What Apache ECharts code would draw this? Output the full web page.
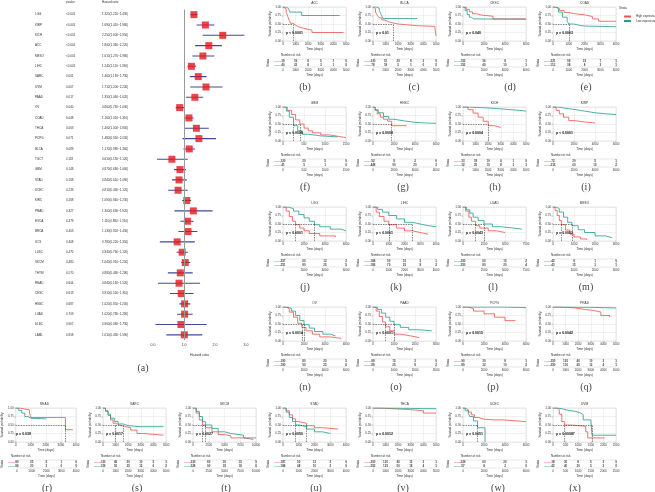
<!DOCTYPE html>
<html><head><meta charset="utf-8">
<script src="https://cdn.jsdelivr.net/npm/echarts@6/dist/echarts.min.js"></script>
<style>html,body{margin:0;padding:0;background:#fff}#c{width:655px;height:492px}</style>
</head><body><div id="c"></div><script>
// ---------------- Forest plot data ----------------
const forestNames = ['LGG','KIRP','KICH','ACC','MESO','LIHC','SARC','UVM','PAAD','OV','COAD','THCA','PCPG','BLCA','TGCT','GBM','STAD','UCEC','KIRC','PRAD','ESCA','BRCA','UCS','LUSC','SKCM','THYM','READ','CESC','HNSC','LUAD','DLBC','LAML'];
const forestP = ['<0.001','<0.001','<0.001','<0.001','<0.001','<0.001','0.001','0.007','0.017','0.040','0.048','0.063','0.071','0.089','0.118','0.148','0.168','0.233','0.268','0.327','0.379','0.403','0.408','0.470','0.480','0.570','0.604','0.613','0.687','0.709','0.907','0.958'];
const forestHR = [1.32,1.69,2.25,1.80,1.61,1.24,1.46,1.71,1.35,0.86,1.16,1.40,1.48,1.17,0.61,0.87,0.84,0.81,1.09,1.30,1.11,1.13,0.78,0.94,1.04,0.88,0.84,0.91,1.02,1.02,0.90,1.01];
const forestLo = [1.21,1.41,1.60,1.36,1.27,1.11,1.19,1.20,1.06,0.73,1.01,1.00,0.95,0.98,0.13,0.68,0.61,0.49,0.94,0.69,0.88,0.82,0.22,0.76,0.91,0.48,0.16,0.55,0.85,0.78,0.08,0.43];
const forestHi = [1.43,1.98,2.95,2.22,1.98,1.39,1.73,2.24,1.62,1.00,1.31,1.80,2.03,1.36,1.12,1.06,1.09,1.12,1.23,1.92,1.31,1.43,1.35,1.12,1.20,1.28,1.52,1.31,1.20,1.28,1.73,1.59];
const forestTicks = ['0.0','1.0','2.0','3.0'];

// ---------------- Kaplan-Meier panels ----------------
const panelNames = ['ACC','BLCA','CESC','COAD','GBM','HNSC','KICH','KIRP','LGG','LIHC','LUAD','MESO','OV','PAAD','PCPG','PRAD','READ','SARC','SKCM','STAD','THCA','UCEC','UVM'];
const panelLetters = ['b','c','d','e','f','g','h','i','j','k','l','m','n','o','p','q','r','s','t','u','v','w','x'];
const panelXmax = [5000,5000,6000,4000,1500,6000,5000,6000,6000,4000,7500,3000,6000,3000,6000,5000,4000,5000,10000,4000,5000,6000,2500];
const panelXint = [1000,1000,2000,1000,500,2000,1000,2000,2000,1000,2500,1000,2000,1000,2000,1000,1000,1000,2500,1000,1000,2000,500];
const panelP = ['p < 0.0001','p = 0.01','p = 0.040','p = 0.0003','p = 0.0009','p = 0.0008','p = 0.0004','p < 0.0001','p < 0.0001','p < 0.0001','p = 0.0043','p = 0.0002','p = 0.0014','p < 0.0001','p = 0.0015','p = 0.0042','p = 0.038','p = 0.0017','p = 0.0027','p = 0.0050','p = 0.0012','p = 0.0051','p = 0.00087'];

const ACC_high = [[0,1],[120,0.95],[250,0.85],[380,0.72],[500,0.6],[600,0.52],[800,0.47],[1000,0.42],[1200,0.38],[1600,0.35],[1900,0.32],[2300,0.25],[4800,0.25]];
const ACC_low = [[0,1],[250,0.95],[450,0.9],[550,0.85],[1480,0.75],[4500,0.75]];
const BLCA_high = [[0,1],[80,0.95],[200,0.85],[350,0.75],[500,0.68],[700,0.62],[900,0.57],[1200,0.53],[1600,0.5],[2000,0.48],[2600,0.45],[3500,0.43],[4900,0.4],[5000,0.15]];
const BLCA_low = [[0,1],[300,0.96],[500,0.9],[650,0.78],[800,0.66],[3500,0.66]];
const CESC_high = [[0,1],[300,0.93],[600,0.86],[900,0.8],[1300,0.76],[1800,0.73],[2850,0.65],[6000,0.65]];
const CESC_low = [[0,1],[200,0.9],[400,0.78],[600,0.7],[800,0.65],[1000,0.64],[6000,0.64]];
const COAD_high = [[0,1],[200,0.96],[400,0.9],[700,0.84],[1000,0.8],[1400,0.77],[2000,0.72],[2500,0.65],[2900,0.58],[4000,0.58]];
const COAD_low = [[0,1],[150,0.95],[350,0.85],[600,0.7],[900,0.58],[1000,0.5],[1300,0.46],[1700,0.44],[2000,0.42],[4000,0.42]];
const GBM_high = [[0,1],[100,0.9],[200,0.78],[300,0.62],[400,0.5],[500,0.38],[600,0.3],[700,0.24],[900,0.18],[1100,0.14],[1300,0.1],[1500,0.08]];
const GBM_low = [[0,1],[80,0.88],[150,0.7],[250,0.45],[350,0.3],[450,0.2],[600,0.15],[900,0.12],[1300,0.1]];
const HNSC_high = [[0,1],[200,0.9],[400,0.8],[700,0.7],[1000,0.64],[1400,0.58],[1780,0.45],[3200,0.45]];
const HNSC_low = [[0,1],[200,0.92],[500,0.83],[1000,0.72],[1500,0.64],[2000,0.59],[3000,0.55],[4000,0.53],[5000,0.52],[6000,0.52]];
const KICH_high = [[0,1],[400,0.92],[800,0.82],[1200,0.7],[1600,0.58],[2000,0.45],[2500,0.4],[3000,0.4]];
const KICH_low = [[0,1],[500,0.98],[1500,0.96],[2500,0.93],[3500,0.9],[4500,0.88],[5000,0.88]];
const KIRP_high = [[0,1],[300,0.9],[600,0.8],[1000,0.7],[1500,0.6],[2000,0.56],[3000,0.53],[4000,0.53]];
const KIRP_low = [[0,1],[500,0.97],[1000,0.93],[2000,0.88],[3000,0.83],[4000,0.8],[5000,0.78],[6000,0.78]];
const LGG_high = [[0,1],[300,0.88],[600,0.72],[900,0.58],[1200,0.48],[1600,0.38],[2000,0.3],[2500,0.22],[3500,0.15],[5000,0.12]];
const LGG_low = [[0,1],[500,0.95],[1000,0.88],[1500,0.78],[2000,0.68],[2500,0.58],[3000,0.48],[3500,0.42],[4500,0.35],[5500,0.3],[6000,0.3]];
const LIHC_high = [[0,1],[200,0.85],[400,0.72],[700,0.58],[1000,0.48],[1500,0.38],[2000,0.3],[2500,0.25],[3000,0.2],[3500,0.2]];
const LIHC_low = [[0,1],[300,0.93],[600,0.85],[1000,0.75],[1500,0.65],[2000,0.55],[2500,0.5],[3000,0.45],[3500,0.42],[4000,0.4]];
const LUAD_high = [[0,1],[300,0.88],[700,0.7],[1000,0.58],[1500,0.45],[2000,0.38],[3000,0.3],[4000,0.25],[5000,0.25]];
const LUAD_low = [[0,1],[400,0.92],[800,0.82],[1200,0.7],[1800,0.6],[2500,0.5],[3500,0.42],[4500,0.38],[6000,0.35],[7000,0.35]];
const MESO_high = [[0,1],[100,0.9],[200,0.75],[300,0.6],[400,0.48],[600,0.32],[800,0.2],[1000,0.12],[1300,0.06],[1600,0.03]];
const MESO_low = [[0,1],[150,0.95],[300,0.85],[500,0.7],[700,0.55],[900,0.45],[1200,0.33],[1500,0.25],[2000,0.15],[2500,0.1],[2800,0.08]];
const OV_high = [[0,1],[300,0.95],[600,0.85],[1000,0.7],[1400,0.52],[1800,0.4],[2200,0.3],[2800,0.2],[3500,0.12],[4500,0.08],[5500,0.05]];
const OV_low = [[0,1],[400,0.96],[800,0.88],[1200,0.75],[1600,0.6],[2000,0.48],[2500,0.38],[3000,0.28],[3800,0.2],[4500,0.15],[5000,0.15]];
const PAAD_high = [[0,1],[150,0.88],[300,0.72],[450,0.56],[600,0.42],[800,0.3],[1000,0.2],[1300,0.15],[1800,0.1],[2200,0.08]];
const PAAD_low = [[0,1],[200,0.93],[400,0.82],[600,0.7],[800,0.58],[1000,0.48],[1300,0.4],[1700,0.33],[2200,0.3],[2800,0.28]];
const PCPG_high = [[0,1],[500,0.95],[1000,0.88],[2000,0.8],[3000,0.7],[4000,0.6],[5000,0.6]];
const PCPG_low = [[0,1],[2000,1],[4000,0.98],[6000,0.98]];
const PRAD_high = [[0,1],[500,0.99],[1000,0.97],[1800,0.93],[2500,0.9],[3200,0.85],[3800,0.75],[4500,0.7]];
const PRAD_low = [[0,1],[1000,0.995],[2000,0.99],[3000,0.98],[4000,0.97],[5000,0.97]];
const READ_high = [[0,1],[300,0.97],[600,0.95],[900,0.88],[1000,0.72],[3300,0.36],[3800,0.36]];
const READ_low = [[0,1],[200,0.93],[400,0.85],[600,0.75],[800,0.7],[1000,0.68],[2000,0.68]];
const SARC_high = [[0,1],[200,0.9],[400,0.78],[600,0.65],[800,0.55],[1000,0.5],[1300,0.46],[1700,0.42],[2200,0.35],[2700,0.25],[3200,0.2],[4800,0.2]];
const SARC_low = [[0,1],[200,0.92],[400,0.82],[600,0.7],[900,0.6],[1200,0.53],[1600,0.48],[2000,0.45],[3000,0.45],[4800,0.45]];
const SKCM_high = [[0,1],[500,0.85],[1000,0.65],[1500,0.5],[2000,0.42],[3000,0.3],[4000,0.22],[5000,0.18],[6000,0.12],[8000,0.08],[9500,0.05]];
const SKCM_low = [[0,1],[500,0.9],[1000,0.75],[1500,0.6],[2000,0.5],[3000,0.4],[4000,0.3],[5000,0.25],[6000,0.2],[8000,0.12],[10000,0.1]];
const STAD_high = [[0,1],[200,0.92],[400,0.8],[600,0.68],[800,0.6],[1000,0.55],[1500,0.48],[2000,0.42],[2500,0.38],[3500,0.38]];
const STAD_low = [[0,1],[200,0.88],[400,0.72],[600,0.6],[800,0.5],[1000,0.45],[1500,0.38],[2000,0.3],[2500,0.25],[3000,0.25]];
const THCA_high = [[0,1],[500,0.99],[1000,0.97],[2000,0.95],[3000,0.92],[4000,0.85],[5000,0.85]];
const THCA_low = [[0,1],[1000,0.995],[2000,0.99],[3000,0.98],[4000,0.98],[5000,0.98]];
const UCEC_high = [[0,1],[200,0.95],[500,0.88],[800,0.8],[1100,0.72],[1500,0.67],[2000,0.65],[3000,0.65],[3800,0.6],[6000,0.6]];
const UCEC_low = [[0,1],[200,0.92],[500,0.85],[650,0.75],[1000,0.62],[1380,0.42],[2100,0]];
const UVM_high = [[0,1],[150,0.95],[250,0.82],[350,0.6],[450,0.5],[700,0.47],[1200,0.45],[1300,0.3],[1380,0.12],[2050,0.12]];
const UVM_low = [[0,1],[200,0.97],[400,0.93],[600,0.9],[900,0.85],[1100,0.8],[1200,0.65],[1500,0.6],[1550,0.2],[2500,0.2]];

const highCurves = [ACC_high,BLCA_high,CESC_high,COAD_high,GBM_high,HNSC_high,KICH_high,KIRP_high,LGG_high,LIHC_high,LUAD_high,MESO_high,OV_high,PAAD_high,PCPG_high,PRAD_high,READ_high,SARC_high,SKCM_high,STAD_high,THCA_high,UCEC_high,UVM_high];
const lowCurves = [ACC_low,BLCA_low,CESC_low,COAD_low,GBM_low,HNSC_low,KICH_low,KIRP_low,LGG_low,LIHC_low,LUAD_low,MESO_low,OV_low,PAAD_low,PCPG_low,PRAD_low,READ_low,SARC_low,SKCM_low,STAD_low,THCA_low,UCEC_low,UVM_low];

const riskHigh = [[39,19,8,5,1,0],[330,51,20,8,3,0],[152,36,8,1],[221,99,33,7,1],[120,20,5,0],[52,8,2,0],[33,18,10,4,1,0],[72,20,5,1],[257,60,12,2],[184,50,15,5,1],[250,60,15,2],[42,8,1,0],[190,80,20,5],[89,15,3,0],[90,30,8,1],[250,120,40,10,3,1],[80,25,5,1,0],[130,45,20,10,5,1],[230,80,30,15,5],[187,50,12,3,0],[250,120,45,15,3,1],[229,60,20,1],[38,30,8,5,3,0]];
const riskLow = [[40,22,8,3,1,0],[78,18,5,1,0,0],[152,40,10,1],[112,38,8,3,1],[41,5,1,0],[448,90,20,3],[32,25,15,8,3,1],[216,60,15,2],[251,80,25,5],[186,70,25,8,2],[250,80,20,4],[43,15,3,1],[190,90,25,6],[89,25,8,2],[89,32,10,2],[250,130,45,12,4,1],[86,20,3,0,0],[129,50,25,12,6,2],[228,90,35,18,6],[188,48,10,2,0],[252,125,50,18,4,1],[57,8,2,0],[42,40,20,5,2,0]];

const geneName = 'ERCC6L';
const highName = 'High expression of ' + geneName;
const lowName = 'Low expression of ' + geneName;

// ---------------- layout ----------------
const RED = '#F0524B', TEAL = '#1F9E8E';
const FONT = 'Liberation Sans';
const colsR = [283, 373, 463, 553];
const rowsR = [7, 107, 207, 307];
const colsB = [13, 103, 193, 283, 373, 463, 553];
const rowB = 408;
const PW = 63, PH = 34;
const subX = [305,414,510,586, 305,403,495,586, 305,396,493,586, 305,396,493,586, 47,137,226,316,403,498,575];

const grids = [], xAxes = [], yAxes = [], series = [], graphics = [];
function txt(x, y, t, o) {
  o = o || {};
  graphics.push({type:'text', x, y, rotation: o.rot || 0, z: 100, silent: true,
    style:{text:t, fill:o.color||'#333', font:(o.weight||'normal')+' '+(o.size||3.5)+'px '+(o.family||FONT),
      align:o.align||'left', textAlign:o.align||'left', verticalAlign:'middle', textVerticalAlign:'middle'}});
}
// median survival time (first time the step curve reaches <= 0.5), or null
function medianOf(curve) {
  for (const [t, s] of curve) if (s <= 0.5) return t;
  return null;
}

// Forest grid
grids.push({left:153, top:9.5, width:93, height:330.5});
xAxes.push({gridIndex:0, type:'value', min:0, max:3, interval:1,
  axisLine:{lineStyle:{color:'#222', width:0.6}}, axisTick:{length:2, lineStyle:{color:'#222', width:0.6}},
  axisLabel:{fontSize:3.5, margin:3, color:'#333', fontFamily:FONT, formatter:(v)=>forestTicks[Math.round(v)]},
  splitLine:{show:false}, name:'Hazard ratio', nameLocation:'middle', nameGap:13,
  nameTextStyle:{fontSize:3.5, color:'#333', fontFamily:FONT}});
yAxes.push({gridIndex:0, type:'category', data:forestNames, inverse:true, axisLine:{show:false}, axisTick:{show:false}, axisLabel:{show:false}});
[[forestNames,118],[forestP,87],[forestHR.map((v,i)=>v.toFixed(3)+'('+forestLo[i].toFixed(3)+'\u2212'+forestHi[i].toFixed(3)+')'),51]].forEach(([d,m])=>{
  yAxes.push({gridIndex:0, type:'category', data:d, inverse:true, position:'left', axisLine:{show:false}, axisTick:{show:false},
    axisLabel:{align:'left', margin:m, fontSize:3, color:'#333', fontFamily:FONT, interval:0}});
});
series.push({type:'custom', xAxisIndex:0, yAxisIndex:0, clip:true, z:2,
  data: forestHR.map((v,i)=>[forestLo[i], forestHi[i], i]),
  encode:{x:[0,1], y:2},
  renderItem:(params, api)=>{
    const p1 = api.coord([api.value(0), api.value(2)]);
    const p2 = api.coord([api.value(1), api.value(2)]);
    return {type:'line', shape:{x1:p1[0], y1:p1[1], x2:p2[0], y2:p2[1]}, style:{stroke:'#3E4A9B', lineWidth:1.1}};
  }});
series.push({type:'scatter', xAxisIndex:0, yAxisIndex:0, z:3, symbol:'rect', symbolSize:7,
  itemStyle:{color:'#E5171C'}, data: forestHR.map((v,i)=>[v,i]),
  markLine:{silent:true, symbol:'none', label:{show:false}, lineStyle:{color:'#9a9a9a', width:1, type:'solid'}, data:[{xAxis:1}]}});
txt(66, 2, 'pvalue', {size:3});
txt(102, 2, 'Hazard ratio', {size:3});
txt(143, 368, '(a)', {size:10, family:'Liberation Serif', align:'center', color:'#444'});

// KM panels
panelNames.forEach((nm, i) => {
  let left, top;
  if (i < 16) { left = colsR[i % 4]; top = rowsR[Math.floor(i / 4)]; }
  else { left = colsB[i - 16]; top = rowB; }
  const xmax = panelXmax[i], xint = panelXint[i];
  // main plot
  let gi = grids.length, xi = xAxes.length, yi = yAxes.length;
  grids.push({left, top, width:PW, height:PH, show:true, borderColor:'#cfcfcf', borderWidth:0.5, backgroundColor:'#fff'});
  xAxes.push({gridIndex:gi, type:'value', min:0, max:xmax, interval:xint,
    axisLine:{show:false}, axisTick:{length:1.5, lineStyle:{color:'#555', width:0.4}},
    axisLabel:{fontSize:3, margin:2, color:'#333', fontFamily:FONT, formatter:(v)=>String(v)},
    splitLine:{show:true, lineStyle:{color:'#e3e3e3', width:0.5}},
    name:'Time (days)', nameLocation:'middle', nameGap:7, nameTextStyle:{fontSize:3.2, color:'#333', fontFamily:FONT}});
  yAxes.push({gridIndex:gi, type:'value', min:0, max:1, interval:0.25,
    axisLine:{show:false}, axisTick:{show:true, length:1.5, lineStyle:{color:'#555', width:0.4}},
    axisLabel:{fontSize:3, margin:2, color:'#333', fontFamily:FONT, formatter:(v)=>v.toFixed(2)},
    splitLine:{show:true, lineStyle:{color:'#e3e3e3', width:0.5}},
    name:'Survival probability', nameLocation:'middle', nameGap:10, nameRotate:90, nameTextStyle:{fontSize:3, color:'#333', fontFamily:FONT}});
  const meds = [medianOf(highCurves[i]), medianOf(lowCurves[i])].filter(v => v !== null);
  const mlData = [];
  if (meds.length) {
    mlData.push([{coord:[0, 0.5]}, {coord:[Math.max(...meds), 0.5]}]);
    meds.forEach(m => mlData.push([{coord:[m, 0]}, {coord:[m, 0.5]}]));
  }
  series.push({type:'line', name:highName, xAxisIndex:xi, yAxisIndex:yi, data:highCurves[i], step:'end', showSymbol:false,
    lineStyle:{color:RED, width:0.8}, itemStyle:{color:RED}, silent:true, animation:false, z:3,
    markLine:{silent:true, symbol:'none', label:{show:false}, animation:false,
      lineStyle:{color:'#222', width:0.5, type:[1.5,1]}, data:mlData}});
  series.push({type:'line', name:lowName, xAxisIndex:xi, yAxisIndex:yi, data:lowCurves[i], step:'end', showSymbol:false,
    lineStyle:{color:TEAL, width:0.8}, itemStyle:{color:TEAL}, silent:true, animation:false, z:3});
  txt(left + PW / 2, top - 4, nm, {size:3.2, align:'center'});
  txt(left + 3, top + 26, panelP[i], {size:3.5, weight:'bold', color:'#111'});
  // risk table
  gi = grids.length; xi = xAxes.length; yi = yAxes.length;
  grids.push({left, top:top + 52, width:PW, height:8, show:true, borderColor:'#cfcfcf', borderWidth:0.5, backgroundColor:'#fff'});
  xAxes.push({gridIndex:gi, type:'value', min:0, max:xmax, interval:xint,
    axisLine:{show:false}, axisTick:{length:1.5, lineStyle:{color:'#555', width:0.4}},
    axisLabel:{fontSize:3, margin:2, color:'#333', fontFamily:FONT, formatter:(v)=>String(v)},
    splitLine:{show:true, lineStyle:{color:'#e3e3e3', width:0.5}},
    name:'Time (days)', nameLocation:'middle', nameGap:7, nameTextStyle:{fontSize:3.2, color:'#333', fontFamily:FONT}});
  yAxes.push({gridIndex:gi, type:'category', data:['high','low'], inverse:true,
    axisLine:{show:false}, axisTick:{show:false},
    axisLabel:{margin:2, interval:0, formatter:(v)=> v === 'high' ? '{h|\u2014\u2014}' : '{l|\u2014\u2014}',
      rich:{h:{color:RED, fontSize:3.5, fontWeight:'bold'}, l:{color:TEAL, fontSize:3.5, fontWeight:'bold'}}},
    name:'Strata', nameLocation:'middle', nameGap:12, nameRotate:90, nameTextStyle:{fontSize:3, color:'#333', fontFamily:FONT}});
  const mk = (arr, key) => arr.map((n, k) => [k * xint, key, n]);
  [[riskHigh[i], 'high'], [riskLow[i], 'low']].forEach(([arr, key]) => {
    series.push({type:'scatter', xAxisIndex:xi, yAxisIndex:yi, data:mk(arr, key), symbolSize:2,
      itemStyle:{color:'rgba(0,0,0,0)'}, silent:true, animation:false, z:5,
      label:{show:true, position:'inside', formatter:(p)=>String(p.value[2]), fontSize:3, color:'#222', fontFamily:FONT, fontWeight:'bold'},
      labelLayout:{hideOverlap:false}});
  });
  txt(left - 2, top + 48, 'Number at risk', {size:3});
  txt(subX[i], top + 80, '(' + panelLetters[i] + ')', {size:10, family:'Liberation Serif', align:'center', color:'#444'});
});
// legend (panel e)
txt(619, 8, 'Strata', {size:3});

const chart = echarts.init(document.getElementById('c'), null, {renderer:'canvas'});
chart.setOption({
  animation:false,
  backgroundColor:'#fff',
  textStyle:{fontFamily:FONT},
  grid: grids, xAxis: xAxes, yAxis: yAxes, series: series,
  legend:{data:[highName, lowName], left:619, top:10, orient:'vertical', itemWidth:7, itemHeight:2, itemGap:1.5,
    icon:'rect', textStyle:{fontSize:3, color:'#333', fontFamily:FONT}, selectedMode:false},
  graphic: graphics
});
</script></body></html>
